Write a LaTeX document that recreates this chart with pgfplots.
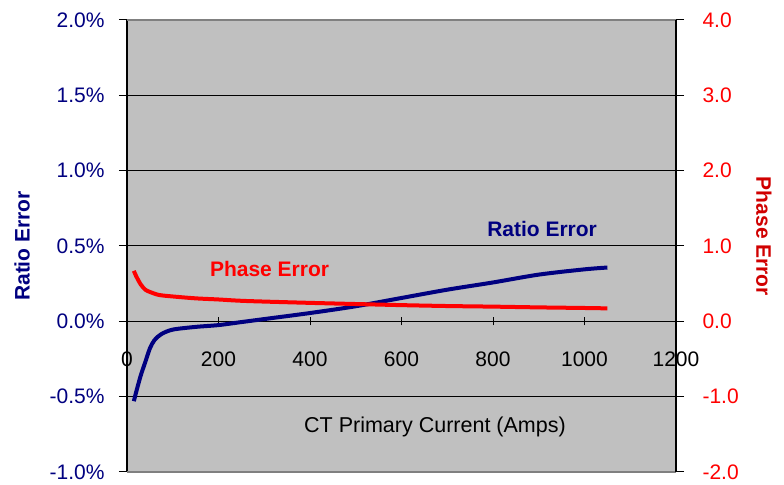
\documentclass[border=0pt]{standalone}
\usepackage{fontspec}
\setmainfont{Liberation Sans}
\usepackage{pgfplots}
\pgfplotsset{compat=1.18}
\definecolor{bg}{HTML}{C0C0C0}
\definecolor{navy}{HTML}{000080}
\definecolor{phred}{HTML}{FF0000}
\definecolor{phlab}{HTML}{D00000}
\begin{document}
\begin{tikzpicture}
\begin{axis}[name=ax,
 scale only axis, width=549pt, height=452pt,
 xmin=0, xmax=1200, ymin=-1, ymax=2,
 axis background/.style={fill=bg},
 axis x line*=middle, axis y line*=left,
 hide obscured x ticks=false, hide obscured y ticks=false,
 xtick={0,200,...,1200},
 ytick={-1,-0.5,...,2},
 ymajorgrids, grid style={black, line width=1pt},
 axis line style={black, line width=1.2pt},
 tick style={black, line width=1pt},
 major tick length=8pt,
 xtick align=center, ytick align=outside,
 /pgf/number format/assume math mode=true,
 /pgf/number format/1000 sep={},
 ticklabel style={font=\fontsize{21}{25}\selectfont},
 yticklabel style={navy, xshift=-11pt},
 yticklabel={\pgfmathprintnumber[fixed,fixed zerofill,precision=1]{\tick}\%},
 xticklabel style={anchor=north, yshift=-23pt},
 xlabel={CT Primary Current (Amps)},
 ylabel={Ratio Error},
 every axis x label/.style={at={(axis description cs:0.561,0.0996)}, anchor=center, font=\fontsize{21.5}{24}\selectfont},
 every axis y label/.style={at={(axis description cs:-0.191,0.5)}, anchor=center, rotate=90, font=\bfseries\fontsize{21}{24}\selectfont, text=navy},
 clip=false,
]
\addplot[navy, line width=4pt, smooth] coordinates {
(15,-0.53) (20,-0.47) (30,-0.36) (40,-0.27) (50,-0.18) (60,-0.125) (75,-0.085)
(100,-0.055) (150,-0.037) (200,-0.025) (250,-0.005) (300,0.015) (400,0.055)
(500,0.10) (600,0.155) (700,0.21) (800,0.258) (900,0.31) (1000,0.345) (1050,0.357)
};
\draw[gray, line width=1.2pt] (rel axis cs:0,1) -- (rel axis cs:1,1);
\draw[gray, line width=1.2pt] (rel axis cs:0,0) -- (rel axis cs:1,0);
\node[navy, font=\bfseries\fontsize{21}{24}\selectfont, anchor=west, inner sep=0pt] at (axis cs:787,0.61) {Ratio Error};
\node[phred, font=\bfseries\fontsize{21}{24}\selectfont, anchor=west, inner sep=0pt] at (axis cs:181,0.345) {Phase Error};
\end{axis}
\begin{axis}[
 scale only axis, width=549pt, height=452pt,
 xmin=0, xmax=1200, ymin=-2, ymax=4,
 axis y line*=right, axis x line=none,
 axis line style={black, line width=1.2pt},
 tick style={black, line width=1pt},
 major tick length=8pt, tick align=outside,
 ytick={-2,-1,...,4},
 /pgf/number format/assume math mode=true,
 yticklabel={\pgfmathprintnumber[fixed,fixed zerofill,precision=1]{\tick}},
 yticklabel style={text=phred, font=\fontsize{21}{25}\selectfont, xshift=15pt},
 ylabel={Phase Error},
 every axis y label/.style={at={(axis description cs:1.16,0.521)}, anchor=center, rotate=-90, font=\bfseries\fontsize{21}{24}\selectfont, text=phlab},
 clip=false,
]
\addplot[phred, line width=4pt, smooth] coordinates {
(15,0.67) (20,0.60) (30,0.49) (40,0.42) (50,0.39) (70,0.35) (100,0.33)
(150,0.305) (200,0.29) (260,0.27) (400,0.245) (525,0.226) (600,0.215)
(700,0.203) (800,0.195) (900,0.185) (1000,0.177) (1050,0.172)
};
\end{axis}
\pgfresetboundingbox
\path ([shift={(-127pt,-13pt)}]ax.south west) rectangle ([shift={(108pt,20pt)}]ax.north east);
\end{tikzpicture}
\end{document}
